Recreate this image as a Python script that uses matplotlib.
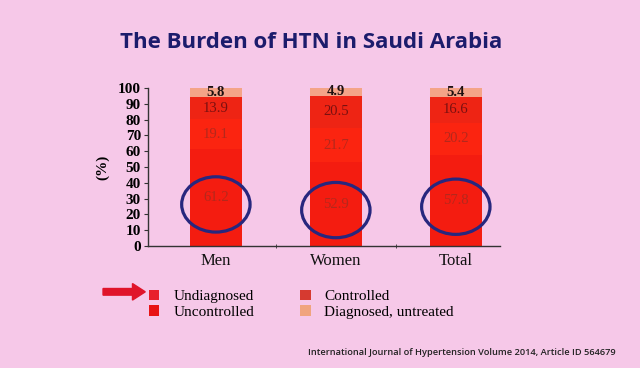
import matplotlib
matplotlib.use("Agg")
import matplotlib.pyplot as plt
from matplotlib.patches import Ellipse, Patch
import numpy as np

# data
groups = ["Men", "Women", "Total"]
undiagnosed = [61.2, 52.9, 57.8]
uncontrolled = [19.1, 21.7, 20.2]
controlled = [13.9, 20.5, 16.6]
diag_untreated = [5.8, 4.9, 5.4]

series = [undiagnosed, uncontrolled, controlled, diag_untreated]
names = ["Undiagnosed", "Uncontrolled", "Controlled", "Diagnosed, untreated"]
colors = ["#f41c10", "#fb2410", "#ee2414", "#f4a488"]
legend_colors = ["#e8202c", "#e81414", "#d63a30", "#f0a47e"]
label_colors = ["#b4281c", "#b4281c", "#7a1010", "#1c1010"]

bg = "#f6c8e8"
serif = ["Liberation Serif", "DejaVu Serif"]

fig = plt.figure(figsize=(6.4, 3.68), dpi=100, facecolor=bg)
ax = fig.add_axes([0.231, 0.3315, 0.55, 0.4293])
ax.set_facecolor(bg)

x = np.arange(len(groups))
bottom = np.zeros(len(groups))
for k, (vals, c, lc) in enumerate(zip(series, colors, label_colors)):
    vals = np.array(vals)
    ax.bar(x, vals, bottom=bottom, width=0.43, color=c, edgecolor="none")
    for xi, b, v in zip(x, bottom, vals):
        ax.text(xi, b + v / 2, f"{v:.1f}", ha="center", va="center",
                fontsize=10.5, color=lc, family=serif,
                fontweight="bold" if k == 3 else "normal")
    bottom += vals

# navy circles drawn around the undiagnosed share
for xi, v in zip(x, undiagnosed):
    ax.add_patch(Ellipse((xi, v * 0.43), 0.57, 35, fill=False,
                         edgecolor="#27277e", linewidth=2.3, zorder=5))

ax.set_xlim(-0.567, 2.367)
ax.set_ylim(0, 100)
ax.set_yticks(range(0, 101, 10))
ax.set_xticks(x)
ax.set_xticklabels(groups, family=serif, fontsize=12, color="#111111")
ax.set_xticks([0.5, 1.5], minor=True)
ax.tick_params(axis="x", which="major", length=0, pad=5)
ax.tick_params(axis="x", which="minor", length=3, direction="inout", color="#333333")
ax.tick_params(axis="y", length=3, color="#333333", labelsize=11, pad=2)
for lab in ax.get_yticklabels():
    lab.set_family(serif)
    lab.set_fontweight("bold")
for s in ["top", "right"]:
    ax.spines[s].set_visible(False)
for s in ["left", "bottom"]:
    ax.spines[s].set_color("#333333")
    ax.spines[s].set_linewidth(1)
ax.set_ylabel("(%)", family=serif, fontsize=11, fontweight="bold", labelpad=6)

handles = [Patch(facecolor=c, edgecolor="none") for c in legend_colors]
fig.legend(handles, names, loc="upper left", bbox_to_anchor=(0.211, 0.25),
           ncol=2, frameon=False, handlelength=0.7, handleheight=0.7,
           handletextpad=0.9, columnspacing=3.0, labelspacing=0.1,
           prop={"family": serif, "size": 11})

# red pointer arrow
fig.add_artist(matplotlib.patches.FancyArrow(0.161, 0.207, 0.066, 0, width=0.018,
               head_width=0.045, head_length=0.02, color="#e0142a",
               transform=fig.transFigure, length_includes_head=True))

fig.text(0.486, 0.884, "The Burden of HTN in Saudi Arabia", ha="center", va="center",
         fontsize=16, fontweight="bold", color="#1c1c6c", family="Open Sans")
fig.text(0.722, 0.043, "International Journal of Hypertension Volume 2014, Article ID 564679",
         ha="center", va="center", fontsize=6.7, fontweight="semibold",
         color="#222222", family="Open Sans")

fig.savefig("out.png", dpi=100, facecolor=bg)
